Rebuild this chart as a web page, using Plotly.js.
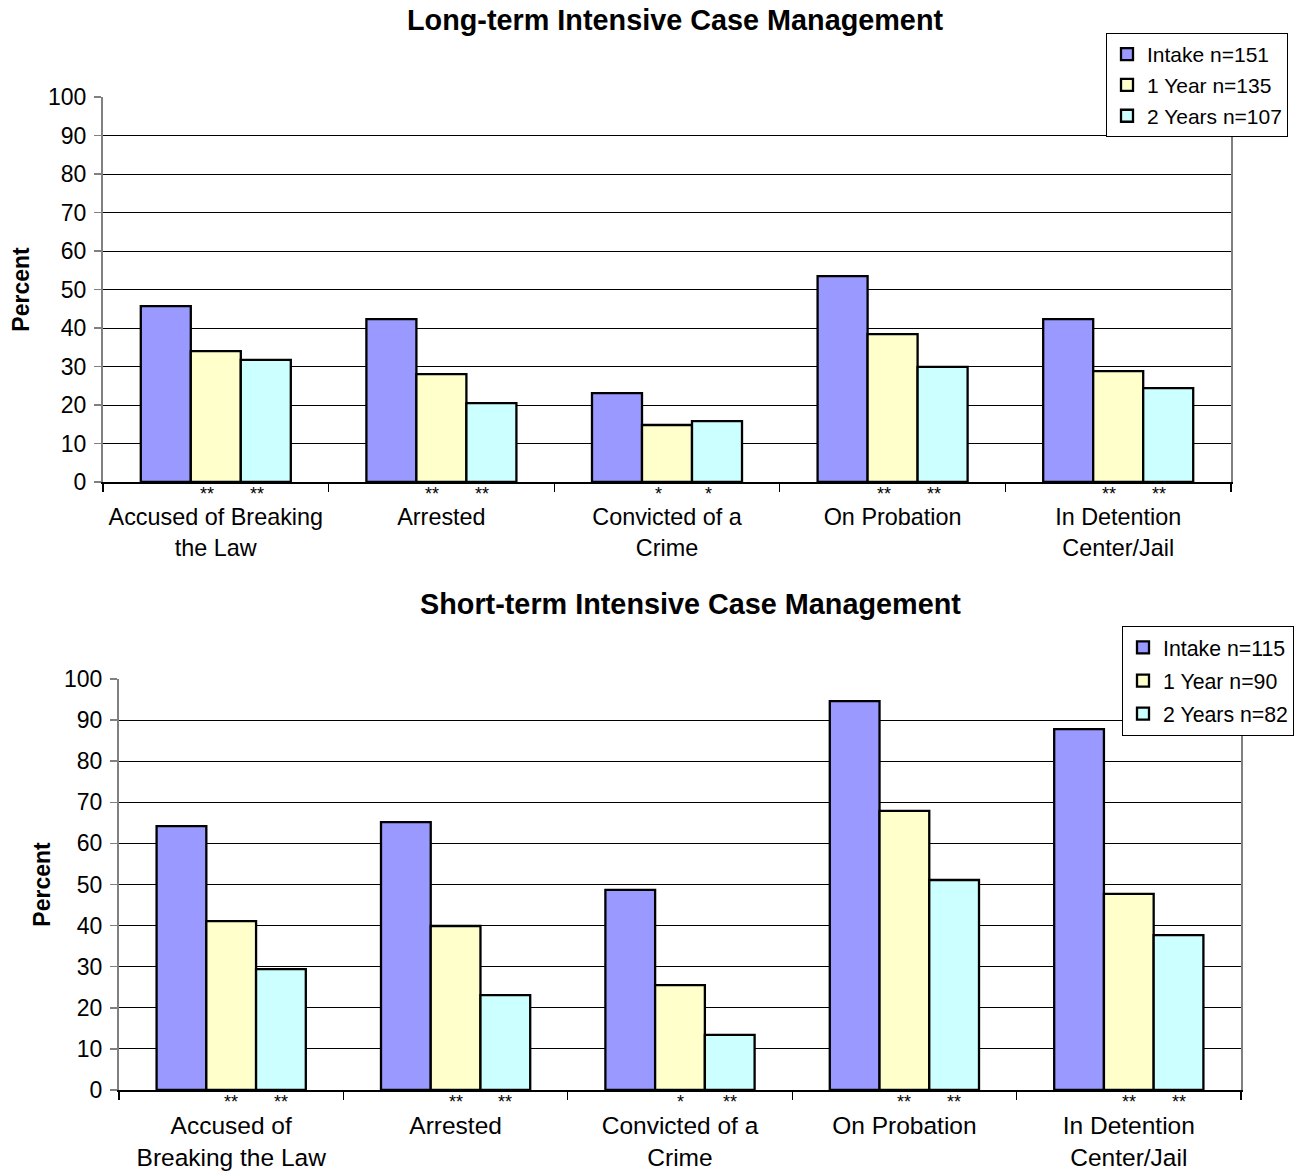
<!DOCTYPE html>
<html>
<head>
<meta charset="utf-8">
<script src="https://cdn.plot.ly/plotly-3.0.1.min.js"></script>
<style>html,body{margin:0;padding:0;background:#fff;}#chart{width:1309px;height:1172px;}</style>
</head>
<body>
<div id="chart"></div>
<script>
// ---- Data ----
const topCategories = ['Accused of Breaking<br>the Law', 'Arrested', 'Convicted of a<br>Crime', 'On Probation', 'In Detention<br>Center/Jail'];
const botCategories = ['Accused of<br>Breaking the Law', 'Arrested', 'Convicted of a<br>Crime', 'On Probation', 'In Detention<br>Center/Jail'];

const topSeriesNames = ['Intake n=151', '1 Year n=135', '2 Years n=107'];
const topIntake = [45.7, 42.3, 23.1, 53.5, 42.3];
const topYear1  = [34.0, 28.0, 14.8, 38.4, 28.8];
const topYear2  = [31.7, 20.5, 15.8, 29.9, 24.4];
const topSig1   = ['**', '**', '*', '**', '**'];
const topSig2   = ['**', '**', '*', '**', '**'];

const botSeriesNames = ['Intake n=115', '1 Year n=90', '2 Years n=82'];
const botIntake = [64.2, 65.2, 48.7, 94.6, 87.8];
const botYear1  = [41.1, 39.9, 25.5, 67.9, 47.7];
const botYear2  = [29.4, 23.1, 13.4, 51.1, 37.7];
const botSig1   = ['**', '**', '*', '**', '**'];
const botSig2   = ['**', '**', '**', '**', '**'];

const yTickVals = [0, 10, 20, 30, 40, 50, 60, 70, 80, 90, 100];

const colors = ['#9999FF', '#FFFFCC', '#CCFFFF'];
const FONT = 'Liberation Sans, Arial, Helvetica, sans-serif';

// ---- Geometry ----
const W = 1309, H = 1172;
const px = v => v / W;
const py = v => 1 - v / H;
const BARGAP = 0.335;
const barW = (1 - BARGAP) / 3;

function mkBar(name, y, idx, xa, ya, legend, cats, grp) {
  return {
    type: 'bar', name: name, x: cats, y: y,
    xaxis: xa, yaxis: ya, legend: legend, legendgroup: grp,
    marker: { color: colors[idx], line: { color: '#000', width: 2.3 } },
    hoverinfo: 'y'
  };
}

const data = [
  mkBar(topSeriesNames[0], topIntake, 0, 'x', 'y', 'legend', topCategories, 't0'),
  mkBar(topSeriesNames[1], topYear1, 1, 'x', 'y', 'legend', topCategories, 't1'),
  mkBar(topSeriesNames[2], topYear2, 2, 'x', 'y', 'legend', topCategories, 't2'),
  mkBar(botSeriesNames[0], botIntake, 0, 'x2', 'y2', 'legend2', botCategories, 'b0'),
  mkBar(botSeriesNames[1], botYear1, 1, 'x2', 'y2', 'legend2', botCategories, 'b1'),
  mkBar(botSeriesNames[2], botYear2, 2, 'x2', 'y2', 'legend2', botCategories, 'b2')
];

const annotations = [];
function addSig(sigs, xref, yref, offset, yshift, xshift) {
  sigs.forEach((s, i) => {
    annotations.push({
      text: s, x: i + offset, y: 0, xref: xref, yref: yref,
      showarrow: false, yanchor: 'top', yshift: yshift, xshift: xshift,
      borderpad: 0,
      font: { family: FONT, size: 18, color: '#000' }
    });
  });
}
addSig(topSig1, 'x', 'y', 0, -1, -9);
addSig(topSig2, 'x', 'y', barW, -1, -9);
addSig(botSig1, 'x2', 'y2', 0, -1, 0);
addSig(botSig2, 'x2', 'y2', barW, -1, 0);

// Titles
annotations.push({
  text: '<b>Long-term Intensive Case Management</b>', xref: 'paper', yref: 'paper',
  x: px(675), y: py(20), showarrow: false, xanchor: 'center', yanchor: 'middle',
  font: { family: FONT, size: 28.8, color: '#000' }
});
annotations.push({
  text: '<b>Short-term Intensive Case Management</b>', xref: 'paper', yref: 'paper',
  x: px(690), y: py(604), showarrow: false, xanchor: 'center', yanchor: 'middle',
  font: { family: FONT, size: 28.8, color: '#000' }
});

function yaxisCfg(domain, anchor, size, standoff) {
  return {
    domain: domain, anchor: anchor, range: [0, 100], tickvals: yTickVals,
    showgrid: true, gridcolor: '#000', gridwidth: 1,
    showline: true, linecolor: '#808080', linewidth: 2, mirror: true,
    ticks: 'outside', ticklen: 7, tickcolor: '#808080', tickwidth: 1.5,
    zeroline: false, fixedrange: true, ticklabelstandoff: 3,
    tickfont: { family: FONT, size: size, color: '#000' },
    title: { text: '<b>Percent</b>', font: { family: FONT, size: 23, color: '#000' }, standoff: standoff }
  };
}
function xaxisCfg(domain, anchor, size, standoff) {
  return {
    domain: domain, anchor: anchor, type: 'category',
    showline: true, linecolor: '#000', linewidth: 2,
    ticks: 'outside', tickson: 'boundaries', ticklen: 8, tickcolor: '#000', tickwidth: 1.2,
    showgrid: false, fixedrange: true, ticklabelstandoff: standoff,
    tickfont: { family: FONT, size: size, color: '#000' }
  };
}

const layout = {
  width: W, height: H,
  margin: { l: 0, r: 0, t: 0, b: 0, pad: 0 },
  paper_bgcolor: '#fff', plot_bgcolor: '#fff',
  barmode: 'group', bargap: BARGAP, bargroupgap: 0,
  showlegend: true,
  font: { family: FONT, color: '#000' },
  xaxis: xaxisCfg([px(103), px(1231)], 'y', 23.4, 13),
  yaxis: yaxisCfg([py(482), py(97)], 'x', 23, 12),
  xaxis2: xaxisCfg([px(119), px(1241)], 'y2', 24.5, 13),
  yaxis2: yaxisCfg([py(1090), py(679)], 'x2', 23, 7),
  legend: {
    x: px(1106), y: py(33), xanchor: 'left', yanchor: 'top',
    bgcolor: '#fff', bordercolor: '#000', borderwidth: 1,
    font: { family: FONT, size: 21, color: '#000' },
    tracegroupgap: 0.5, itemwidth: 30
  },
  legend2: {
    x: px(1122), y: py(626), xanchor: 'left', yanchor: 'top',
    bgcolor: '#fff', bordercolor: '#000', borderwidth: 1,
    font: { family: FONT, size: 21.3, color: '#000' },
    tracegroupgap: 2.5, itemwidth: 30
  },
  annotations: annotations
};

Plotly.newPlot('chart', data, layout, { displayModeBar: false, staticPlot: true });
</script>
</body>
</html>
